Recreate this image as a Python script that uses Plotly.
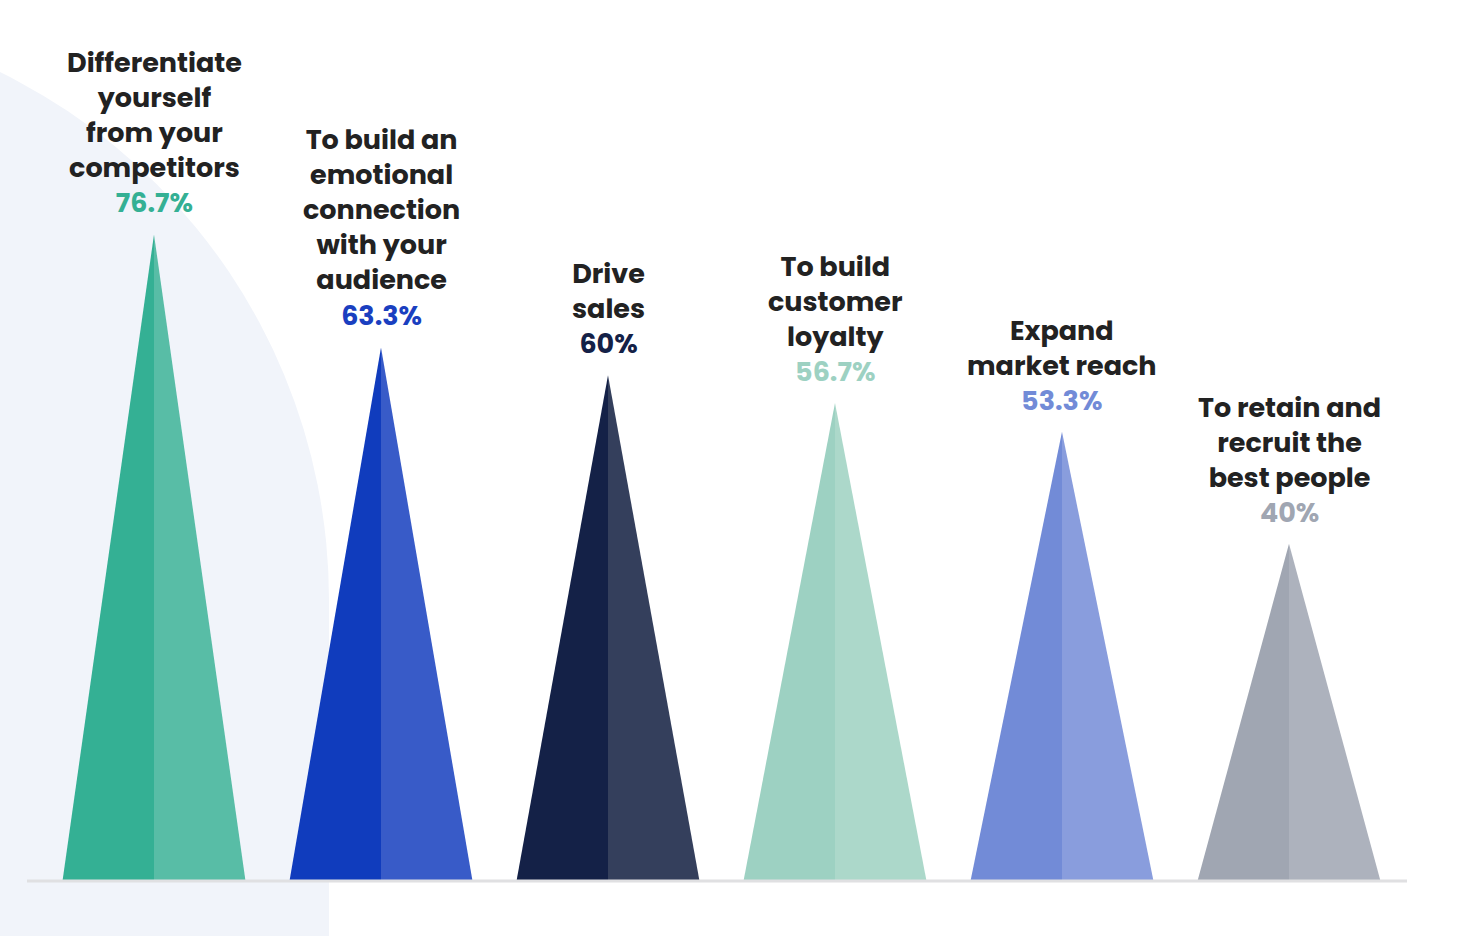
import plotly.graph_objects as go

# ---- data ----
categories = [
    "Differentiate<br>yourself<br>from your<br>competitors",
    "To build an<br>emotional<br>connection<br>with your<br>audience",
    "Drive<br>sales",
    "To build<br>customer<br>loyalty",
    "Expand<br>market reach",
    "To retain and<br>recruit the<br>best people",
]
values = [76.7, 63.3, 60, 56.7, 53.3, 40]
value_labels = ["76.7%", "63.3%", "60%", "56.7%", "53.3%", "40%"]
dark_colors = ["#34b094", "#103cbd", "#142147", "#9dd1c2", "#728bd7", "#a0a6b2"]
light_colors = ["#58bda6", "#385bc8", "#343f5c", "#acd8ca", "#899ddd", "#adb2bd"]
label_colors = ["#34b094", "#1a3fc0", "#142147", "#9dd1c2", "#728bd7", "#a0a6b2"]

# ---- layout geometry (pixels) ----
W, H = 1476, 936
X0_PX, DX_PX = 154, 227       # center of first triangle, spacing
BASE_PX, SCALE = 881, 8.43    # baseline pixel row, px per percent
HALF_W = 91.5 / DX_PX         # half base width in category units


def xd(px):
    return (px - X0_PX) / DX_PX


def yd(py):
    return (BASE_PX - py) / SCALE


fig = go.Figure()

for i, v in enumerate(values):
    fig.add_trace(go.Scatter(
        x=[i - HALF_W, i, i, i - HALF_W], y=[0, v, 0, 0],
        fill="toself", fillcolor=dark_colors[i], mode="lines",
        line=dict(width=0), hoverinfo="skip", showlegend=False))
    fig.add_trace(go.Scatter(
        x=[i, i, i + HALF_W, i], y=[0, v, 0, 0],
        fill="toself", fillcolor=light_colors[i], mode="lines",
        line=dict(width=0), hoverinfo="skip", showlegend=False))

# background decoration: big soft circle + block below it
shapes = [
    dict(type="circle", xref="x", yref="y", layer="below",
         x0=xd(-259 - 588), x1=xd(-259 + 588), y0=yd(600 + 588), y1=yd(600 - 588),
         fillcolor="#f1f4fa", line=dict(width=0)),
    dict(type="rect", xref="x", yref="y", layer="below",
         x0=xd(-10), x1=xd(329), y0=yd(945), y1=yd(600),
         fillcolor="#f1f4fa", line=dict(width=0)),
    dict(type="line", xref="x", yref="y", layer="above",
         x0=xd(27), x1=xd(1407), y0=0, y1=0,
         line=dict(color="#e0e0e2", width=3)),
]

annotations = []
for i, v in enumerate(values):
    annotations.append(dict(
        x=i, y=v, xref="x", yref="y", showarrow=False,
        xanchor="center", yanchor="bottom", yshift=11, align="center",
        text=f"{categories[i]}<br><span style='color:{label_colors[i]}'>{value_labels[i]}</span>",
        font=dict(family="Poppins, Inter, sans-serif", size=27, color="#222222", weight=700),
    ))

fig.update_layout(
    width=W, height=H,
    margin=dict(l=0, r=0, t=0, b=0),
    paper_bgcolor="white", plot_bgcolor="white",
    xaxis=dict(range=[xd(0), xd(W)], visible=False, fixedrange=True),
    yaxis=dict(range=[yd(H), yd(0)], visible=False, fixedrange=True),
    shapes=shapes, annotations=annotations,
    showlegend=False,
)

fig.write_html(
    "out.html",
    config={"displayModeBar": False},
    post_script="document.body.style.margin='0';document.body.style.overflow='hidden';",
)
